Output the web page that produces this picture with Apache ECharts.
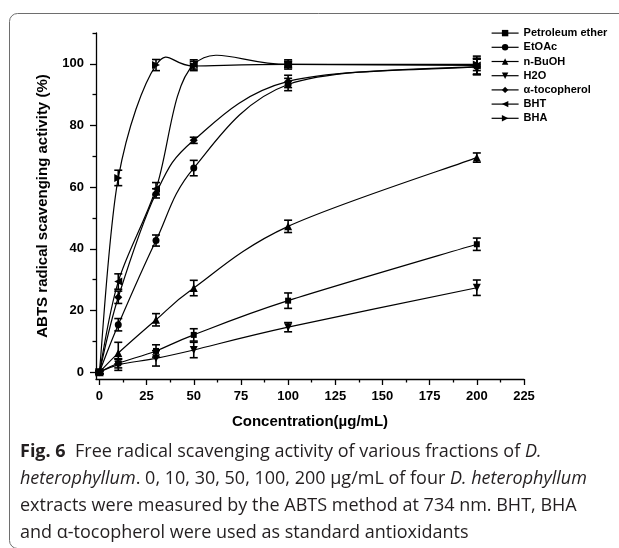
<!DOCTYPE html>
<html>
<head>
<meta charset="utf-8">
<script src="https://cdn.jsdelivr.net/npm/echarts@6/dist/echarts.min.js"></script>
<style>
  html, body { margin: 0; padding: 0; background: #fff; }
  #chart { width: 619px; height: 548px; }
</style>
</head>
<body>
<div id="chart"></div>
<script>
// concentrations (ug/mL) and mean scavenging activity (%)
var concentrations = [0, 10, 30, 50, 100, 200];

var petroleumEther    = [0, 2.9, 6.9, 12.1, 23.2, 41.5];
var petroleumEtherErr = [0.5, 1.5, 2.0, 2.0, 2.5, 2.0];
var etoac             = [0, 15.4, 42.7, 66.2, 93.3, 99.2];
var etoacErr          = [0.5, 2.0, 1.8, 2.5, 2.0, 2.5];
var nBuOH             = [0, 6.2, 17.0, 27.3, 47.3, 69.6];
var nBuOHErr          = [0.5, 3.5, 2.0, 2.5, 2.0, 1.5];
var h2o               = [0, 2.4, 4.5, 7.2, 14.6, 27.4];
var h2oErr            = [0.5, 1.8, 2.5, 2.5, 1.5, 2.5];
var tocopherol        = [0, 24.3, 58.0, 75.2, 94.3, 99.0];
var tocopherolErr     = [0.5, 2.0, 1.5, 1.0, 2.0, 2.5];
var bht               = [0, 29.4, 59.5, 99.8, 99.8, 99.5];
var bhtErr            = [0.5, 2.5, 2.0, 1.5, 1.5, 3.0];
var bha               = [0, 63.0, 99.6, 99.3, 99.8, 99.8];
var bhaErr            = [0.5, 2.5, 1.8, 1.5, 1.0, 2.0];

var seriesNames = ['Petroleum ether', 'EtOAc', 'n-BuOH', 'H2O', '\u03b1-tocopherol', 'BHT', 'BHA'];

var xMajorTicks = [0, 25, 50, 75, 100, 125, 150, 175, 200, 225];
var xMinorTicks = [12.5, 37.5, 62.5, 87.5, 112.5, 137.5, 162.5, 187.5, 212.5];
var yMajorTicks = [0, 20, 40, 60, 80, 100];
var yMinorTicks = [10, 30, 50, 70, 90, 110];

var xMin = -1.8, xMax = 225, yMin = -2.2, yMax = 110;

var groups = [
    {name: seriesNames[0], values: petroleumEther, err: petroleumEtherErr, symbol: 'rect', size: 6, rot: 0},
    {name: seriesNames[1], values: etoac, err: etoacErr, symbol: 'circle', size: 7, rot: 0},
    {name: seriesNames[2], values: nBuOH, err: nBuOHErr, symbol: 'triangle', size: 8, rot: 0},
    {name: seriesNames[3], values: h2o, err: h2oErr, symbol: 'triangle', size: 8, rot: 180},
    {name: seriesNames[4], values: tocopherol, err: tocopherolErr, symbol: 'diamond', size: 8, rot: 0},
    {name: seriesNames[5], values: bht, err: bhtErr, symbol: 'triangle', size: 8, rot: 90},
    {name: seriesNames[6], values: bha, err: bhaErr, symbol: 'triangle', size: 8, rot: -90}
];

var myChart = echarts.init(document.getElementById('chart'), null, {renderer: 'canvas'});

// spline segment from point i to i+1 (catmull-rom, no clamping so it can overshoot like the original)
function renderSpline(params, api) {
    var n = params.dataInsideLength;
    var i = params.dataIndexInside;
    if (i >= n - 1) return {type: 'group', children: []};
    function pt(k) {
        k = Math.max(0, Math.min(n - 1, k));
        return api.coord([api.value(0, k), api.value(1, k)]);
    }
    var p0 = pt(i - 1), p1 = pt(i), p2 = pt(i + 1), p3 = pt(i + 2);
    return {
        type: 'bezierCurve',
        shape: {
            x1: p1[0], y1: p1[1],
            x2: p2[0], y2: p2[1],
            cpx1: p1[0] + (p2[0] - p0[0]) / 6, cpy1: p1[1] + (p2[1] - p0[1]) / 6,
            cpx2: p2[0] - (p3[0] - p1[0]) / 6, cpy2: p2[1] - (p3[1] - p1[1]) / 6
        },
        style: {stroke: '#000', lineWidth: 1.2, fill: null}
    };
}

var series = [];
var errData = [];
groups.forEach(function (g) {
    var pts = [];
    for (var i = 0; i < concentrations.length; i++) {
        pts.push([concentrations[i], g.values[i]]);
        errData.push([concentrations[i], g.values[i] - g.err[i], g.values[i] + g.err[i]]);
    }
    series.push({
        name: g.name,
        type: 'line',
        data: pts,
        symbol: g.symbol,
        symbolSize: g.size,
        symbolRotate: g.rot,
        showAllSymbol: true,
        lineStyle: {color: '#000', width: 1.2, opacity: 0},
        itemStyle: {color: '#000'},
        z: 3
    });
    series.push({
        type: 'custom',
        data: pts,
        encode: {x: 0, y: 1},
        silent: true,
        z: 2,
        renderItem: renderSpline
    });
});

// error bars
series.push({
    type: 'custom',
    data: errData,
    encode: {x: 0, y: [1, 2]},
    z: 4,
    silent: true,
    renderItem: function (params, api) {
        var x = api.value(0);
        var lo = api.coord([x, api.value(1)]);
        var hi = api.coord([x, api.value(2)]);
        var hw = 4;
        var st = {stroke: '#000', lineWidth: 1.6};
        return {
            type: 'group',
            children: [
                {type: 'line', shape: {x1: lo[0], y1: lo[1], x2: hi[0], y2: hi[1]}, style: st},
                {type: 'line', shape: {x1: lo[0] - hw, y1: lo[1], x2: lo[0] + hw, y2: lo[1]}, style: st},
                {type: 'line', shape: {x1: hi[0] - hw, y1: hi[1], x2: hi[0] + hw, y2: hi[1]}, style: st}
            ]
        };
    }
});

var tickFont = {fontFamily: 'Liberation Sans', fontWeight: 'bold', fontSize: 13, color: '#000'};

var option = {
    backgroundColor: '#fff',
    animation: false,
    grid: {left: 96, right: 95, top: 33, bottom: 169},
    legend: {
        data: seriesNames,
        orient: 'vertical',
        left: 491,
        top: 27,
        padding: 0,
        itemWidth: 27,
        itemHeight: 8,
        itemGap: 2,
        lineStyle: {color: '#000', width: 1.2, opacity: 1},
        textStyle: {fontFamily: 'Liberation Sans', fontWeight: 'bold', fontSize: 11, color: '#000', lineHeight: 12.2}
    },
    xAxis: [{
        type: 'value',
        min: xMin,
        max: xMax,
        name: 'Concentration(\u00b5g/mL)',
        nameLocation: 'middle',
        nameGap: 35,
        nameTextStyle: {fontFamily: 'Liberation Sans', fontWeight: 'bold', fontSize: 15, color: '#000'},
        axisLine: {onZero: false, lineStyle: {color: '#000', width: 1.3}},
        axisTick: {show: true, inside: false, length: 6, customValues: xMajorTicks, lineStyle: {color: '#000', width: 1.3}},
        axisLabel: Object.assign({margin: 11, customValues: xMajorTicks}, tickFont),
        splitLine: {show: false}
    }, {
        type: 'value',
        min: xMin,
        max: xMax,
        position: 'bottom',
        axisLine: {show: false, onZero: false},
        axisTick: {show: true, inside: false, length: 3.5, customValues: xMinorTicks, lineStyle: {color: '#000', width: 1.3}},
        axisLabel: {show: false},
        splitLine: {show: false}
    }],
    yAxis: [{
        type: 'value',
        min: yMin,
        max: yMax,
        name: 'ABTS radical scavenging activity (%)',
        nameLocation: 'middle',
        nameGap: 46,
        nameTextStyle: {fontFamily: 'Liberation Sans', fontWeight: 'bold', fontSize: 15, color: '#000'},
        axisLine: {show: true, onZero: false, lineStyle: {color: '#000', width: 1.3}},
        axisTick: {show: true, inside: false, length: 6, customValues: yMajorTicks, lineStyle: {color: '#000', width: 1.3}},
        axisLabel: Object.assign({margin: 12, customValues: yMajorTicks}, tickFont),
        splitLine: {show: false}
    }, {
        type: 'value',
        min: yMin,
        max: yMax,
        position: 'left',
        axisLine: {show: false, onZero: false},
        axisTick: {show: true, inside: false, length: 3.5, customValues: yMinorTicks, lineStyle: {color: '#000', width: 1.3}},
        axisLabel: {show: false},
        splitLine: {show: false}
    }],
    series: series,
    graphic: [
        {
            type: 'rect',
            shape: {x: 9.5, y: 13.5, width: 800, height: 535, r: 8},
            style: {fill: 'none', stroke: '#6e6e6e', lineWidth: 1},
            silent: true,
            z: -1
        },
        {
            type: 'text',
            left: 20,
            top: 439,
            style: {
                text: '{b|Fig. 6}  Free radical scavenging activity of various fractions of {i|D.}\n' +
                      '{i|heterophyllum}. 0, 10, 30, 50, 100, 200 \u00b5g/mL of four {i|D. heterophyllum}\n' +
                      'extracts were measured by the ABTS method at 734 nm. BHT, BHA\n' +
                      'and \u03b1-tocopherol were used as standard antioxidants',
                fontFamily: 'Open Sans',
                fontSize: 18,
                lineHeight: 26.7,
                fill: '#231f20',
                rich: {
                    b: {fontFamily: 'Open Sans', fontSize: 18, fontWeight: 'bold', lineHeight: 26.7, fill: '#231f20'},
                    i: {fontFamily: 'Open Sans', fontSize: 18, fontStyle: 'italic', lineHeight: 26.7, fill: '#231f20'}
                }
            }
        }
    ]
};

myChart.setOption(option);
</script>
</body>
</html>
